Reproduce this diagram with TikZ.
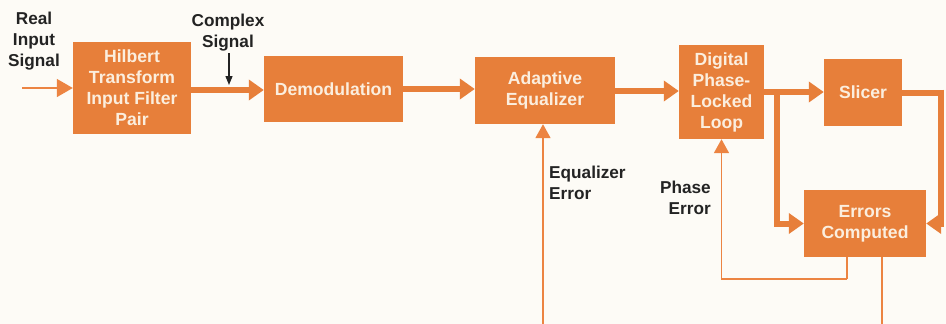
\documentclass[tikz,border=0pt]{standalone}
\usepackage{fontspec}
\setmainfont{Liberation Sans}
\usetikzlibrary{arrows.meta}
\definecolor{boxorange}{RGB}{231,127,58}
\definecolor{lineorange}{RGB}{236,132,66}
\definecolor{bgcream}{RGB}{253,251,246}
\definecolor{boxtext}{RGB}{251,238,222}
\definecolor{labeltext}{RGB}{35,35,35}
\tikzset{
  blk/.style={draw=none, fill=boxorange, text=boxtext, font=\bfseries\fontsize{17.6}{21}\selectfont, align=center, inner sep=0pt},
  lbl/.style={text=labeltext, font=\bfseries\fontsize{17.2}{21}\selectfont, inner sep=0pt},
  thickarrow/.style={draw=boxorange, line width=6pt, -{Triangle[width=20pt,length=15pt]}},
  thickline/.style={draw=boxorange, line width=6pt},
  thinarrow/.style={draw=lineorange, line width=1.8pt, -{Triangle[width=15pt,length=14pt]}},
  thinline/.style={draw=lineorange, line width=1.8pt},
}
\begin{document}
\begin{tikzpicture}[x=1pt,y=-1pt]
\fill[bgcream] (0,0) rectangle (946,324);
\useasboundingbox (0,0) rectangle (946,324);

\node[blk, minimum width=118pt, minimum height=92pt] (hil) at (132,88) {Hilbert\\Transform\\Input Filter\\Pair};
\node[blk, minimum width=139pt, minimum height=66pt] (dem) at (333.5,89) {Demodulation};
\node[blk, minimum width=140pt, minimum height=67pt] (ae) at (545,90.5) {Adaptive\\Equalizer};
\node[blk, minimum width=85pt, minimum height=94pt] (dpll) at (721.5,92) {Digital\\Phase-\\Locked\\Loop};
\node[blk, minimum width=78pt, minimum height=67pt] (sl) at (863,92.5) {Slicer};
\node[blk, minimum width=122pt, minimum height=67pt] (ec) at (865,223.5) {Errors\\Computed};

\node[lbl, align=center] (real) at (34,41) {Real\\Input\\Signal};
\node[lbl, align=center] (cplx) at (228,33) {Complex\\Signal};
\node[lbl, align=left, anchor=west] (eqerr) at (549,182.5) {Equalizer\\Error};
\node[lbl, align=right, anchor=east] (pherr) at (711,197.5) {Phase\\Error};

% input
\coordinate (in) at (22,88);
\draw[draw=lineorange, line width=1.5pt, -{Triangle[width=18pt,length=16pt]}] (in) -- (hil.west);

% complex signal marker
\coordinate (cs1) at (229,53);
\coordinate (cs2) at (229,85);
\draw[labeltext, line width=1.3pt, -{Triangle[width=7pt,length=9pt]}] (cs1) -- (cs2);

% main chain
\draw[thickarrow] (hil.east |- 0,90) -- (dem.west |- 0,90);
\draw[thickarrow] (dem.east |- 0,89) -- (ae.west |- 0,89);
\draw[thickarrow] (ae.east |- 0,91) -- (dpll.west |- 0,91);
\draw[thickarrow] (dpll.east |- 0,92) -- (sl.west |- 0,92);

% branch down to errors computed
\coordinate (br) at (777,92);
\draw[thickarrow] (br) |- (ec.west);

% slicer output around to errors computed
\coordinate (so) at (941,92.5);
\draw[thickline] (sl.east) -- (so);
\draw[thickarrow] ([yshift=3pt]so) |- (ec.east);

% equalizer error feedback
\coordinate (eqb) at (543,324);
\draw[thinarrow] (eqb) -- (eqb |- ae.south);

% phase error feedback
\coordinate (pf) at (847,279);
\draw[thinline] (ec.south -| pf) -- (pf);
\draw[thinarrow] (pf) -| (dpll.south);

% errors computed down
\coordinate (eb) at (882,324);
\draw[thinline] (ec.south -| eb) -- (eb);
\end{tikzpicture}
\end{document}
